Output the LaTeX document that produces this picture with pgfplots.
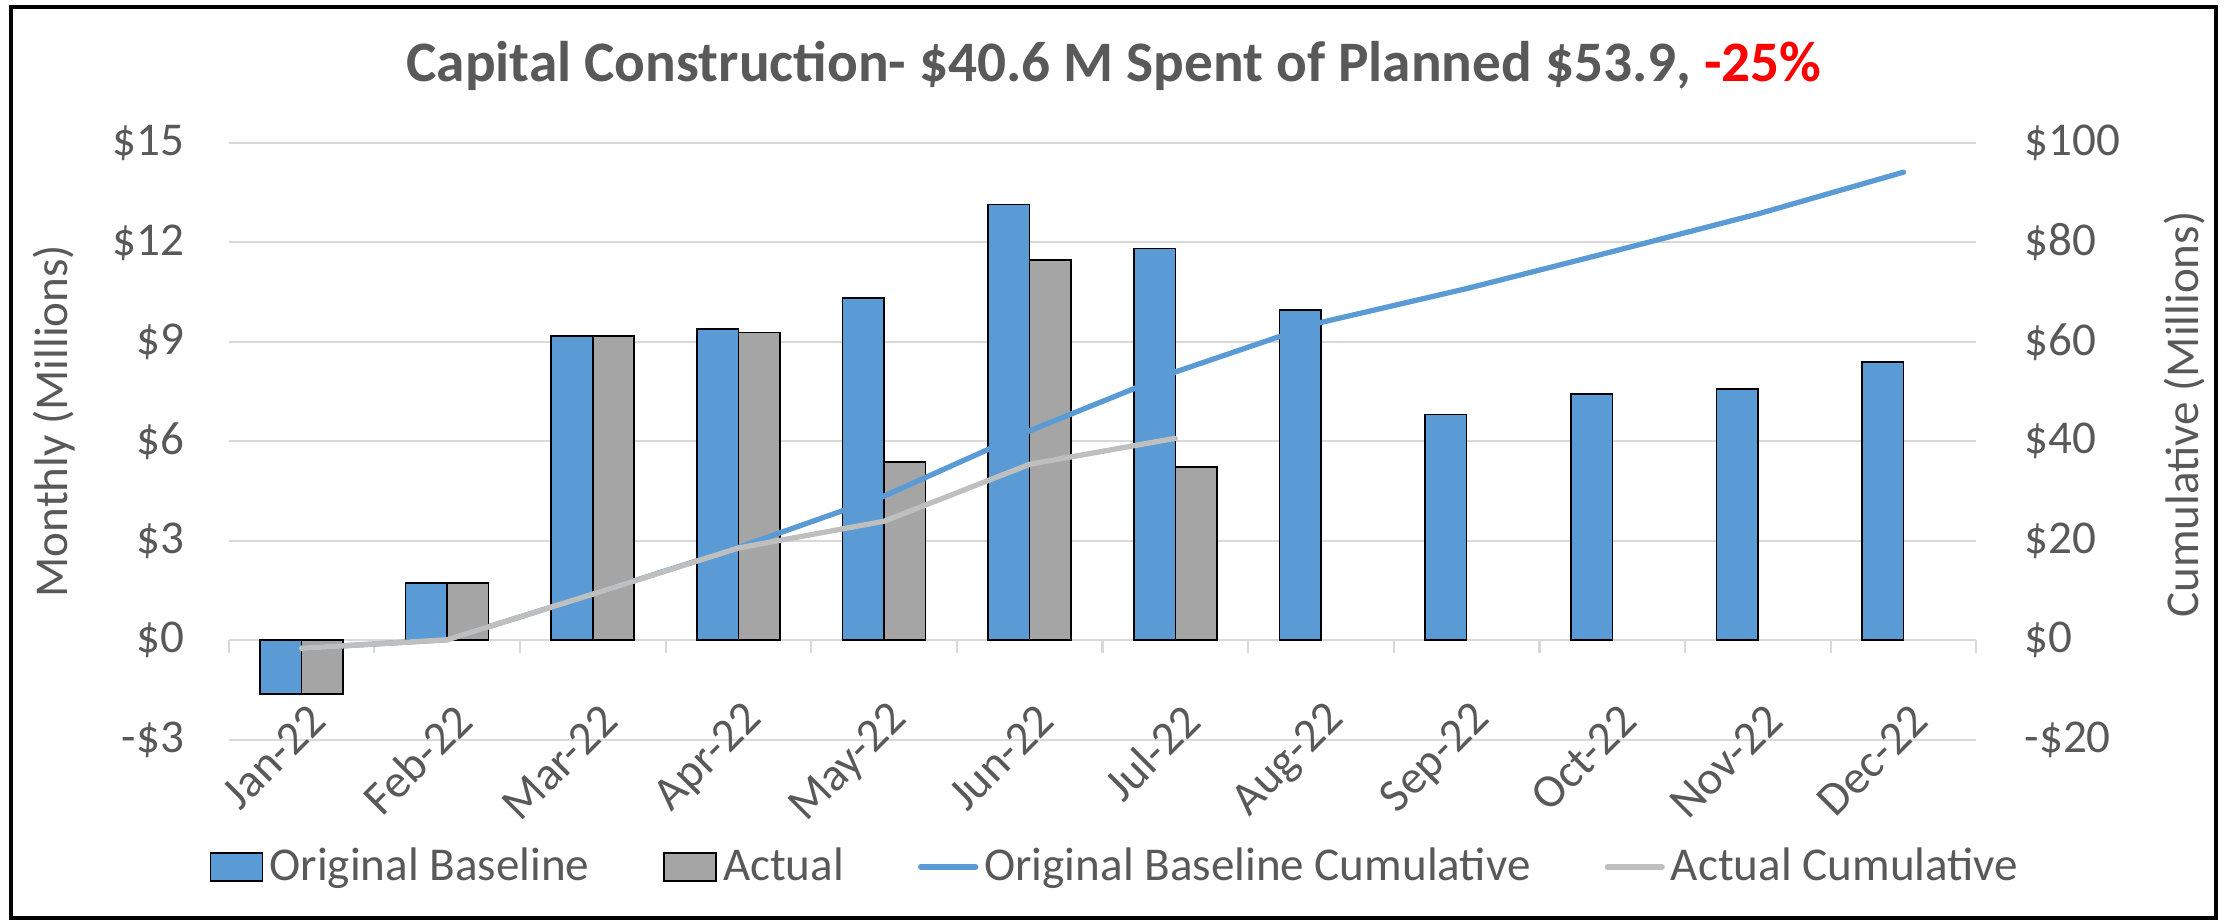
\documentclass[border=0pt]{standalone}
\usepackage{pgfplots}
\pgfplotsset{compat=1.18}
\usepackage{fontspec}
\setmainfont{Carlito}
\definecolor{txt}{HTML}{595959}
\definecolor{bblue}{HTML}{5B9BD5}
\definecolor{bgray}{HTML}{A5A5A5}
\definecolor{lgray}{HTML}{BFBFBF}
\definecolor{gridc}{HTML}{D9D9D9}
\newcommand{\tfont}{\fontsize{13.4}{15}\selectfont}
\pgfplotsset{
  barlegend/.style={legend image code/.code={\draw[##1] (0cm,-0.14cm) rectangle (0.52cm,0.14cm);}},
  linelegend/.style={legend image code/.code={\draw[##1] (0cm,0cm) -- (0.55cm,0cm);}},
}
\begin{document}
\begin{tikzpicture}
\useasboundingbox (0,0) rectangle (22.29cm,9.23cm);
\begin{axis}[
  at={(2.286cm,1.833cm)}, anchor=south west,
  width=17.478cm, height=5.968cm, scale only axis,
  xmin=-0.5, xmax=11.5, ymin=-3, ymax=15,
  ybar=0pt, bar width=0.415cm,
  axis x line*=middle, axis y line*=left,
  hide obscured x ticks=false, hide obscured y ticks=false,
  x axis line style={draw=gridc, line width=0.6pt, -},
  y axis line style={draw=none},
  xtick={0,...,11},
  xticklabels={Jan-22,Feb-22,Mar-22,Apr-22,May-22,Jun-22,Jul-22,Aug-22,Sep-22,Oct-22,Nov-22,Dec-22},
  minor xtick={-0.5,0.5,...,11.5},
  major tick length=0pt, minor tick length=0.13cm,
  xtick align=outside,
  minor x tick style={draw=gridc, line width=0.6pt},
  ytick={-3,0,3,6,9,12,15},
  yticklabels={-\$3,\$0,\$3,\$6,\$9,\$12,\$15},
  ymajorgrids, major grid style={draw=gridc, line width=0.6pt},
  yticklabel style={font=\tfont, text=txt, anchor=east, inner sep=0pt, xshift=-0.44cm},
  xticklabel style={font=\tfont, text=txt, xshift=0.17cm, yshift=-0.72cm, rotate=45, anchor=east, inner sep=0pt},
]
\addplot[fill=bblue, draw=black, line width=0.45pt] coordinates {
  (0,-1.62) (1,1.72) (2,9.17) (3,9.38) (4,10.33) (5,13.14) (6,11.82) (7,9.96) (8,6.81) (9,7.43) (10,7.58) (11,8.40)};
\addplot[fill=bgray, draw=black, line width=0.45pt] coordinates {
  (0,-1.62) (1,1.72) (2,9.17) (3,9.28) (4,5.37) (5,11.46) (6,5.22)};
\end{axis}
\begin{axis}[
  at={(2.286cm,1.833cm)}, anchor=south west,
  width=17.478cm, height=5.968cm, scale only axis,
  xmin=-0.5, xmax=11.5, ymin=-20, ymax=100,
  axis x line=none, axis y line*=right,
  y axis line style={draw=none},
  major tick length=0pt,
  ytick={-20,0,20,40,60,80,100},
  yticklabels={-\$20,\$0,\$20,\$40,\$60,\$80,\$100},
  yticklabel style={font=\tfont, text=txt, anchor=west, inner sep=0pt, xshift=0.476cm},
  legend columns=4,
  legend style={draw=none, fill=none, at={(0.5066,-0.2133)}, anchor=center,
    font=\tfont, text=txt, inner sep=0pt, nodes={inner sep=0pt},
    /tikz/every even column/.append style={column sep=0.74cm},
    /tikz/every odd column/.append style={column sep=0.06cm}},
]
\addlegendimage{barlegend, fill=bblue, draw=black, line width=0.45pt}
\addlegendentry{Original Baseline}
\addlegendimage{barlegend, fill=bgray, draw=black, line width=0.45pt}
\addlegendentry{Actual}
\addplot[linelegend, bblue, line width=1.5pt, line cap=round, line join=round] coordinates {
  (0,-1.62) (1,0.10) (2,9.27) (3,18.65) (4,28.98) (5,42.12) (6,53.94) (7,63.90) (8,70.71) (9,78.14) (10,85.72) (11,94.12)};
\addlegendentry{Original Baseline Cumulative}
\addplot[linelegend, lgray, line width=1.5pt, line cap=round, line join=round] coordinates {
  (0,-1.62) (1,0.10) (2,9.27) (3,18.55) (4,23.92) (5,35.38) (6,40.60)};
\addlegendentry{Actual Cumulative}
\end{axis}
\node[anchor=base, font=\fontsize{16.3}{20}\selectfont\bfseries, text=txt] at (11.14cm,8.413cm)
  {Capital Construction- \$40.6 M Spent of Planned \$53.9, \textcolor{red}{-25\%}};
\node[rotate=90, font=\tfont, text=txt] at (0.536cm,5.02cm) {Monthly (Millions)};
\node[rotate=90, font=\tfont, text=txt] at (21.85cm,5.084cm) {Cumulative (Millions)};
\draw[black, line width=1.14pt] (0.11cm,0.05cm) rectangle (22.16cm,9.16cm);
\end{tikzpicture}
\end{document}
